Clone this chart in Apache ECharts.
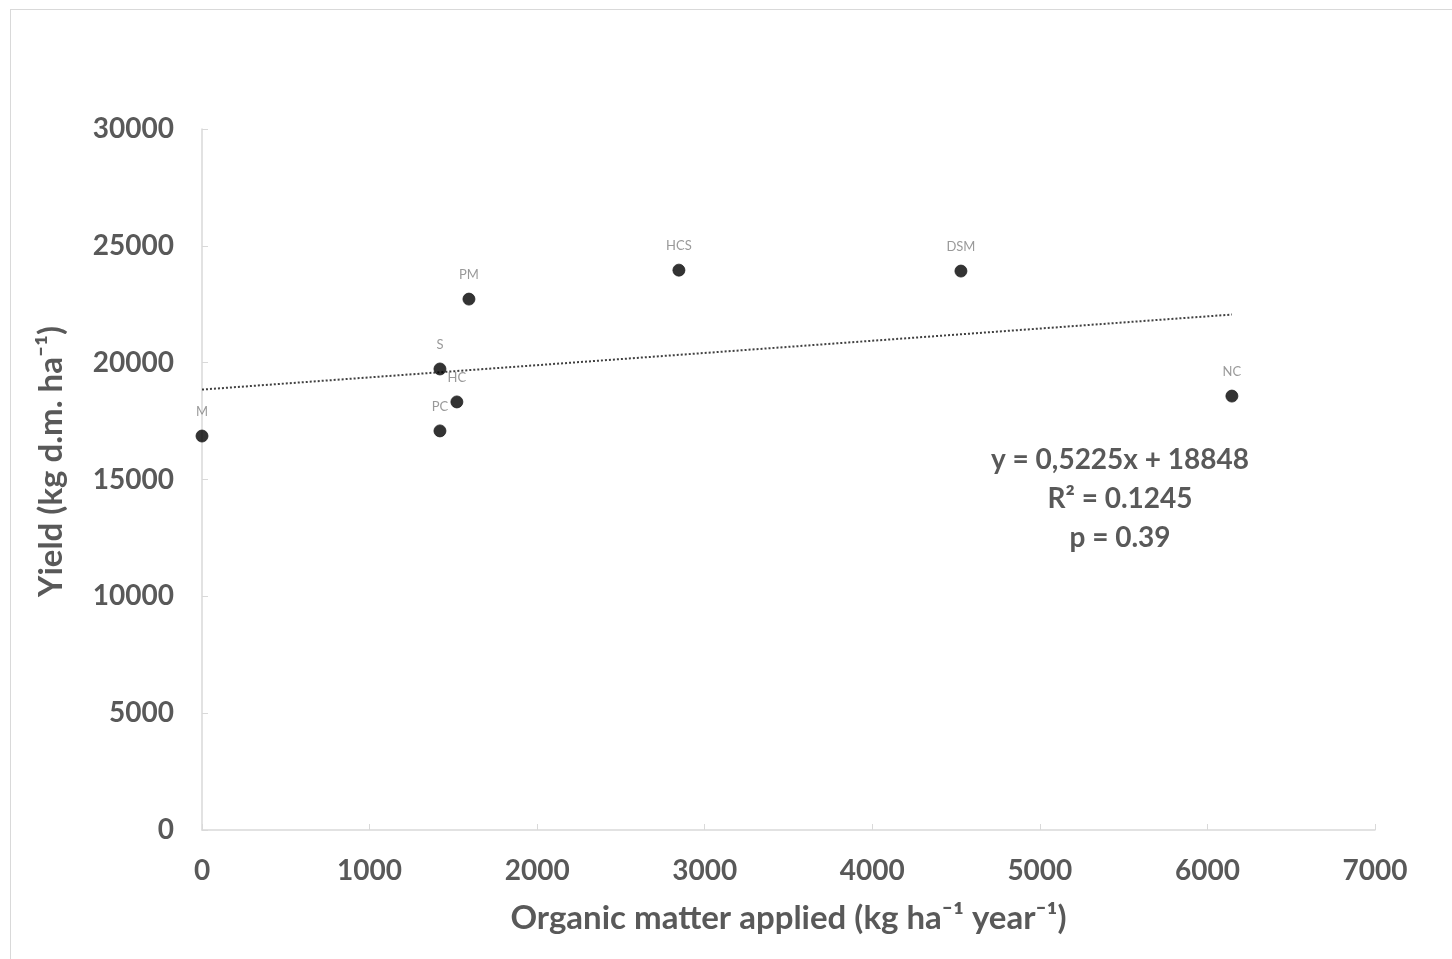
<!DOCTYPE html>
<html>
<head>
<meta charset="utf-8">
<script src="https://cdn.jsdelivr.net/npm/echarts@6/dist/echarts.min.js"></script>
<style>
  html, body { margin: 0; padding: 0; background: #fff; overflow: hidden; }
  #frame {
    position: absolute; left: 10px; top: 9px; width: 1460px; height: 960px;
    border: 1px solid #d9d9d9;
  }
  #chart { position: absolute; left: 0; top: 0; width: 1452px; height: 959px; }
</style>
</head>
<body>
<div id="frame"></div>
<div id="chart"></div>
<script>
// treatments
const treatments = ['M', 'S', 'HC', 'PC', 'PM', 'HCS', 'DSM', 'NC']
// organic matter applied (kg ha-1 year-1)
const organicMatter = [0, 1420, 1521, 1420, 1593, 2846, 4529, 6146]
// yield (kg d.m. ha-1)
const yieldValues = [16860, 19730, 18320, 17080, 22720, 23960, 23920, 18570]
// regression shown on the chart
const slope = 0.5225
const intercept = 18848
const statLines = ['y = 0,5225x + 18848', 'R² = 0.1245', 'p = 0.39']

const textColor = '#595959'
const font = 'Lato, "Open Sans", sans-serif'

const points = treatments.map((t, i) => ({ name: t, value: [organicMatter[i], yieldValues[i]] }))
const xEnd = Math.max(...organicMatter)
const trend = [[0, intercept], [xEnd, intercept + slope * xEnd]]

let chart = echarts.init(document.getElementById('chart'))
let option = {
  animation: false,
  grid: { left: 202, right: 77, top: 129, bottom: 129 },
  xAxis: {
    type: 'value', min: 0, max: 7000, interval: 1000,
    name: 'Organic matter applied (kg ha⁻¹ year⁻¹)',
    nameLocation: 'middle', nameGap: 72,
    nameTextStyle: { fontFamily: font, fontWeight: 'bold', fontSize: 33, color: textColor },
    axisLine: { lineStyle: { color: '#d9d9d9', width: 1.5 } },
    axisTick: { inside: true, length: 6, lineStyle: { color: '#d9d9d9' } },
    axisLabel: { fontFamily: font, fontWeight: 'bold', fontSize: 28, color: textColor, margin: 27, formatter: v => String(v) },
    splitLine: { show: false }
  },
  yAxis: {
    type: 'value', min: 0, max: 30000, interval: 5000,
    name: 'Yield (kg d.m. ha⁻¹)',
    nameLocation: 'middle', nameGap: 134, nameRotate: 90,
    nameTextStyle: { fontFamily: font, fontWeight: 'bold', fontSize: 33, color: textColor, padding: [0, 0, 0, 36] },
    axisLine: { show: true, lineStyle: { color: '#d9d9d9', width: 1.5 } },
    axisTick: { show: true, inside: true, length: 6, lineStyle: { color: '#d9d9d9' } },
    axisLabel: { fontFamily: font, fontWeight: 'bold', fontSize: 28, color: textColor, margin: 28, formatter: v => String(v) },
    splitLine: { show: false }
  },
  series: [
    {
      type: 'line',
      data: trend,
      symbol: 'none',
      silent: true,
      lineStyle: { color: '#404040', width: 2, type: 'dotted' },
      z: 1
    },
    {
      type: 'scatter',
      data: points,
      symbolSize: 12,
      itemStyle: { color: '#000', borderColor: '#222', borderWidth: 1 },
      label: {
        show: true, position: 'top', distance: 11,
        formatter: p => p.name,
        fontFamily: font, fontSize: 13, color: '#7f7f7f'
      },
      z: 3
    }
  ],
  graphic: statLines.map((s, i) => ({
    type: 'text',
    x: 1120, y: 460 + i * 39,
    style: {
      text: s, textAlign: 'center', textVerticalAlign: 'middle',
      fontFamily: font, fontWeight: 'bold', fontSize: 28, fill: textColor
    }
  }))
}
chart.setOption(option)
</script>
</body>
</html>
